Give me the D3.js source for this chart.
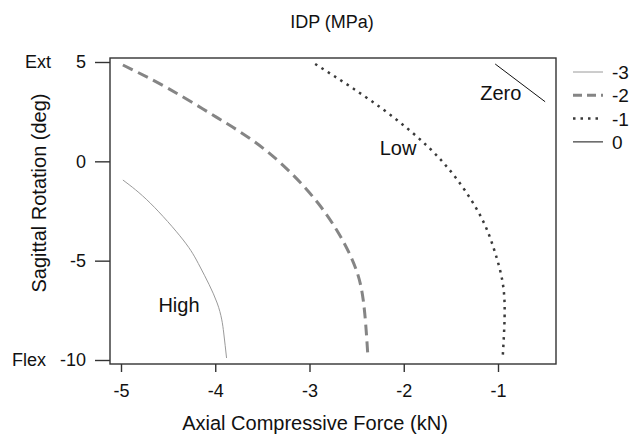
<!DOCTYPE html>
<html>
  <head>
    <meta charset="utf-8" />
    <title>IDP contours</title>
    <script src="https://d3js.org/d3.v7.min.js"></script>
    <style>
      body { margin: 0; background: #fff; }
      text { font-family: "Liberation Sans", Arial, sans-serif; fill: #111; }
    </style>
  </head>
  <body>
    <svg width="636" height="437" id="chart"></svg>

    <script>
      // contour levels and their points (force kN, rotation deg)
      var levels = ["-3", "-2", "-1", "0"];
      var level3 = [[-4.98, -0.94], [-4.69, -2.10], [-4.34, -3.96], [-4.16, -5.32], [-3.98, -7.13], [-3.91, -8.64], [-3.88, -9.90]];
      var level2 = [[-4.98, 4.85], [-4.51, 3.70], [-3.98, 2.20], [-3.45, 0.50], [-2.91, -2.10], [-2.56, -4.81], [-2.43, -6.98], [-2.38, -9.85]];
      var level1 = [[-2.94, 4.90], [-2.56, 3.74], [-2.14, 2.33], [-1.74, 0.72], [-1.43, -0.94], [-1.18, -2.80], [-1.04, -4.46], [-0.95, -6.12], [-0.93, -7.83], [-0.95, -9.85]];
      var level0 = [[-1.03, 4.90], [-0.50, 3.00]];
      var xTicks = [-5, -4, -3, -2, -1];
      var yTicks = [5, 0, -5, -10];
      var regionLabels = [{name: "High", x: -4.385, y: -7.58}, {name: "Low", x: -2.06, y: 0.32}, {name: "Zero", x: -0.97, y: 3.09}];

      var styles = {
        "-3": {stroke: "#9a9a9a", width: 1, dash: null},
        "-2": {stroke: "#858585", width: 3, dash: "11,6"},
        "-1": {stroke: "#3a3a3a", width: 2.5, dash: "2.5,5"},
        "0": {stroke: "#111", width: 1, dash: null}
      };

      var svg = d3.select("#chart");
      // plot box (note: "top" would clash with window.top)
      var boxL = 110, boxR = 556, boxT = 58, boxB = 364;

      var x = d3.scaleLinear().domain([-5, -1]).range([121, 498]);
      var y = d3.scaleLinear().domain([5, -10]).range([62, 360]);

      svg.append("rect")
        .attr("x", boxL).attr("y", boxT)
        .attr("width", boxR - boxL).attr("height", boxB - boxT)
        .attr("fill", "none").attr("stroke", "#333").attr("stroke-width", 1.4);

      // axes, drawn outside the box
      var xAxis = svg.append("g")
        .attr("transform", "translate(0," + boxB + ")")
        .call(d3.axisBottom(x).tickValues(xTicks).tickSize(8).tickPadding(12).tickFormat(function(d){ return String(d); }));
      var yAxis = svg.append("g")
        .attr("transform", "translate(" + boxL + ",0)")
        .call(d3.axisLeft(y).tickValues(yTicks).tickSize(15).tickPadding(9).tickFormat(function(d){ return String(d); }));
      [xAxis, yAxis].forEach(function(a) {
        a.select(".domain").remove();
        a.selectAll("line").attr("stroke", "#333").attr("stroke-width", 1.4);
        a.selectAll("text").style("font-size", "18px").attr("fill", "#111").attr("font-family", null);
      });

      svg.append("text").attr("x", 25).attr("y", y(5) + 6).style("font-size", "18px").text("Ext");
      svg.append("text").attr("x", 12).attr("y", y(-10) + 6).style("font-size", "18px").text("Flex");

      // contour lines
      var line = d3.line()
        .x(function(d) { return x(d[0]); })
        .y(function(d) { return y(d[1]); })
        .curve(d3.curveNatural);

      var series = [level3, level2, level1, level0];
      series.forEach(function(pts, i) {
        var s = styles[levels[i]];
        svg.append("path")
          .attr("d", line(pts))
          .attr("fill", "none")
          .attr("stroke", s.stroke)
          .attr("stroke-width", s.width)
          .attr("stroke-dasharray", s.dash);
      });

      svg.selectAll(".region").data(regionLabels).enter().append("text")
        .attr("class", "region")
        .attr("x", function(d) { return x(d.x); })
        .attr("y", function(d) { return y(d.y); })
        .attr("text-anchor", "middle")
        .style("font-size", "20px")
        .text(function(d) { return d.name; });

      // legend
      var legend = svg.selectAll(".legend").data(levels).enter().append("g")
        .attr("class", "legend")
        .attr("transform", function(d, i) { return "translate(573," + (72 + i * 23.3) + ")"; });
      legend.append("line")
        .attr("x1", 0).attr("x2", 30)
        .attr("stroke", function(d) { return styles[d].stroke; })
        .attr("stroke-width", function(d) { return styles[d].width; })
        .attr("stroke-dasharray", function(d) { return styles[d].dash ? (d === "-2" ? "9,5" : "2.5,5") : null; });
      legend.append("text")
        .attr("x", 39).attr("y", 7)
        .style("font-size", "19px")
        .text(function(d) { return d; });

      // titles
      svg.append("text").attr("x", 332).attr("y", 28).attr("text-anchor", "middle")
        .style("font-size", "18px").text("IDP (MPa)");
      svg.append("text").attr("x", 315).attr("y", 430).attr("text-anchor", "middle")
        .style("font-size", "20px").text("Axial Compressive Force (kN)");
      svg.append("text")
        .attr("transform", "translate(46,193) rotate(-90)")
        .attr("text-anchor", "middle")
        .style("font-size", "20px").text("Sagittal Rotation (deg)");
    </script>
  </body>
</html>
